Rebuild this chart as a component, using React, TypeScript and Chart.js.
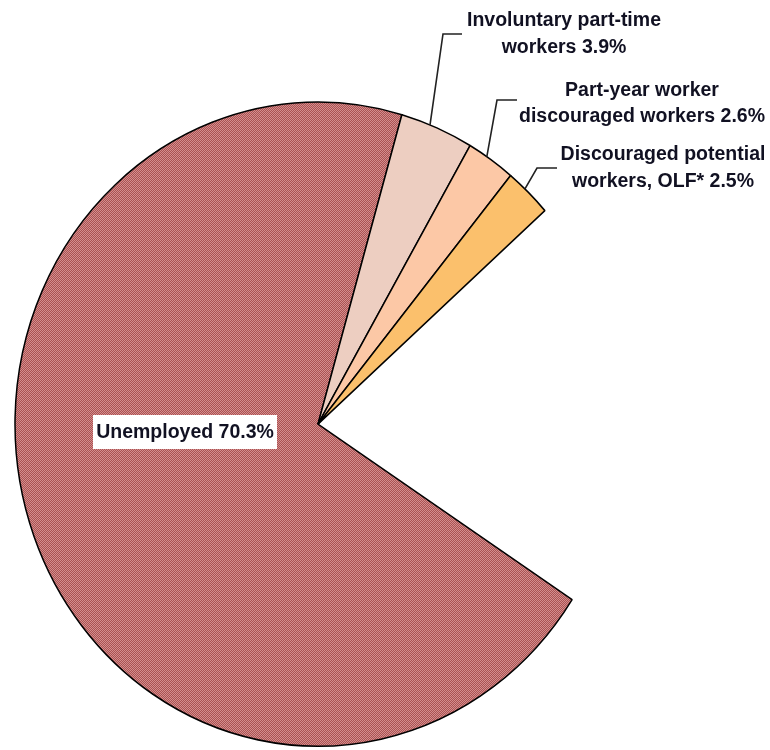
import React, { useEffect, useRef } from 'react';
import { Chart, registerables } from 'chart.js';

Chart.register(...registerables);

// ---- data ----
const categories = [
  'Unemployed',
  'Involuntary part-time workers',
  'Part-year worker discouraged workers',
  'Discouraged potential workers, OLF*',
];
const shares = [70.3, 3.9, 2.6, 2.5];
const notShownShare = 20.7; // remainder of the pie that is left blank
const labelLines = [
  ['Unemployed'],
  ['Involuntary part-time', 'workers'],
  ['Part-year worker', 'discouraged workers'],
  ['Discouraged potential', 'workers, OLF*'],
];

// ---- layout (display coordinates) ----
const W = 770;
const H = 750;
const K = 1.063; // vertical stretch of the pie in the reference

type LabelLayout = {
  cx: number;
  baselines: number[];
  elbow?: [number, number];
  end?: [number, number];
  box?: { x: number; y: number; w: number; h: number };
  frac?: number;
};

const labelLayout: LabelLayout[] = [
  { cx: 185, baselines: [438], box: { x: 93, y: 415, w: 184, h: 34 } },
  { cx: 564, baselines: [26, 53], elbow: [443, 34], end: [462, 34], frac: 0.4 },
  { cx: 642, baselines: [96, 122], elbow: [497, 100], end: [517, 100], frac: 0.4 },
  { cx: 663, baselines: [160, 187], elbow: [537, 168], end: [557, 168], frac: 0.4 },
];

function makePattern(size: number, fn: (x: number, y: number) => string): CanvasPattern | string {
  const tile = document.createElement('canvas');
  tile.width = size;
  tile.height = size;
  const c = tile.getContext('2d');
  if (!c) return '#ccc';
  for (let y = 0; y < size; y++) {
    for (let x = 0; x < size; x++) {
      c.fillStyle = fn(x, y);
      c.fillRect(x, y, 1, 1);
    }
  }
  const p = c.createPattern(tile, 'repeat');
  if (!p) return '#ccc';
  try {
    p.setTransform(new DOMMatrix([1, 0, 0, 1 / K, 0, 0]));
  } catch (e) {
    /* ignore */
  }
  return p;
}

const stretchPlugin = {
  id: 'stretch',
  beforeDatasetsDraw(chart: any) {
    chart.ctx.save();
    chart.ctx.scale(1, K);
  },
  afterDatasetsDraw(chart: any) {
    chart.ctx.restore();
  },
};

const labelPlugin = {
  id: 'pieLabels',
  afterDraw(chart: any) {
    const ctx: CanvasRenderingContext2D = chart.ctx;
    const meta = chart.getDatasetMeta(0);
    ctx.save();
    ctx.font = 'bold 19.5px "Liberation Sans", Arial, sans-serif';
    ctx.textAlign = 'center';
    ctx.textBaseline = 'alphabetic';
    labelLayout.forEach((lay, i) => {
      const lines = labelLines[i].slice();
      lines[lines.length - 1] = `${lines[lines.length - 1]} ${shares[i]}%`;
      if (lay.box) {
        ctx.fillStyle = '#ffffff';
        ctx.fillRect(lay.box.x, lay.box.y, lay.box.w, lay.box.h);
      }
      if (lay.elbow && lay.end) {
        const arc = meta.data[i];
        const a = arc.startAngle + (arc.endAngle - arc.startAngle) * (lay.frac ?? 0.5);
        const sx = arc.x + Math.cos(a) * arc.outerRadius;
        const sy = (arc.y + Math.sin(a) * arc.outerRadius) * K;
        ctx.beginPath();
        ctx.strokeStyle = '#222';
        ctx.lineWidth = 1.6;
        ctx.moveTo(sx, sy);
        ctx.lineTo(lay.elbow[0], lay.elbow[1]);
        ctx.lineTo(lay.end[0], lay.end[1]);
        ctx.stroke();
      }
      ctx.fillStyle = '#111122';
      lines.forEach((ln, j) => {
        ctx.fillText(ln, lay.cx, lay.baselines[j]);
      });
    });
    ctx.restore();
  },
};

export default function App() {
  const ref = useRef<HTMLCanvasElement>(null);

  useEffect(() => {
    if (!ref.current) return;
    const fills = [
      makePattern(2, (x, y) => ((x + y) % 2 ? '#AA5252' : '#D48E8E')),
      '#EDCEC1',
      '#FCC8A6',
      '#FBC06C',
    ];
    const chart = new Chart(ref.current, {
      type: 'pie',
      data: {
        labels: [...categories, 'Not shown'],
        datasets: [
          {
            data: [...shares, notShownShare],
            backgroundColor: [...fills, 'rgba(0,0,0,0)'] as any,
            borderColor: ['#000', '#000', '#000', '#000', 'rgba(0,0,0,0)'],
            borderWidth: [1.5, 1.5, 1.5, 1.5, 0],
            radius: 303,
            clip: false,
          } as any,
        ],
      },
      options: {
        animation: false,
        responsive: false,
        devicePixelRatio: 1,
        rotation: 123,
        events: [],
        layout: { padding: { left: 0, right: 134, top: 48, bottom: 0 } },
        plugins: {
          legend: { display: false },
          tooltip: { enabled: false },
        },
      } as any,
      plugins: [stretchPlugin, labelPlugin],
    });
    return () => chart.destroy();
  }, []);

  return (
    <div
      style={{
        position: 'absolute',
        left: 0,
        top: 0,
        width: W,
        height: H,
        overflow: 'hidden',
        background: '#fff',
      }}
    >
      <canvas ref={ref} width={W} height={H} style={{ display: 'block' }} />
    </div>
  );
}
